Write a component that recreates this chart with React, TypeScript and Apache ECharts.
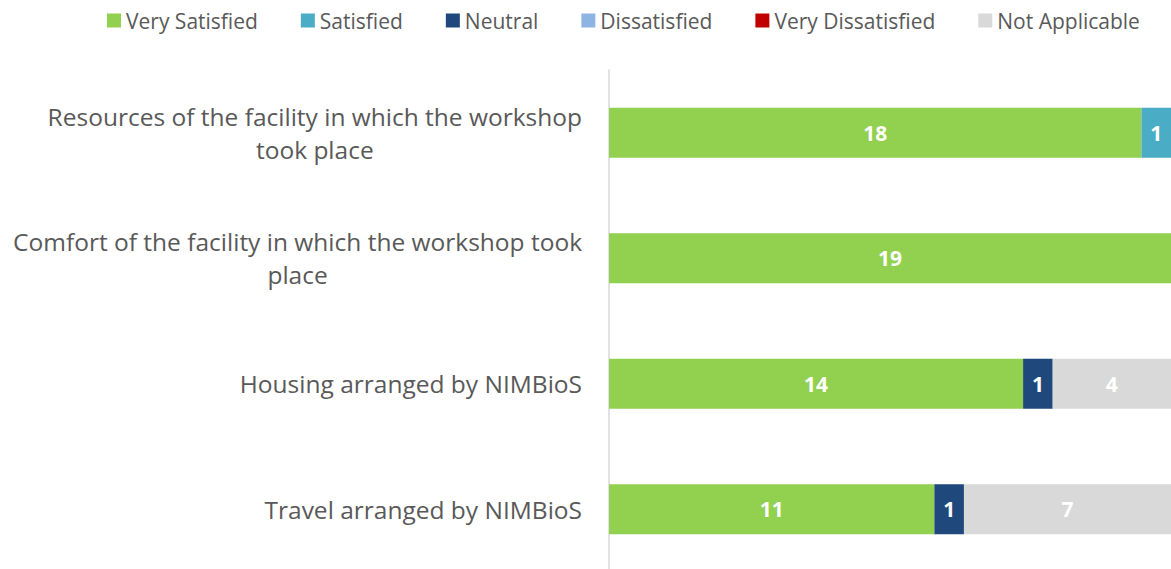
import React, { useEffect, useRef } from "react";
import * as echarts from "echarts";

const categories = [
  "Resources of the facility in which the workshop\ntook place",
  "Comfort of the facility in which the workshop took\nplace",
  "Housing arranged by NIMBioS",
  "Travel arranged by NIMBioS",
];
const seriesNames = [
  "Very Satisfied",
  "Satisfied",
  "Neutral",
  "Dissatisfied",
  "Very Dissatisfied",
  "Not Applicable",
];
const verySatisfied = [18, 19, 14, 11];
const satisfied = [1, 0, 0, 0];
const neutral = [0, 0, 1, 1];
const dissatisfied = [0, 0, 0, 0];
const veryDissatisfied = [0, 0, 0, 0];
const notApplicable = [0, 0, 4, 7];
const seriesValues = [verySatisfied, satisfied, neutral, dissatisfied, veryDissatisfied, notApplicable];
const colors = ["#92D050", "#4BACC6", "#1F497D", "#8DB4E2", "#C00000", "#D9D9D9"];

export default function App() {
  const ref = useRef<HTMLDivElement>(null);
  useEffect(() => {
    const chart = echarts.init(ref.current!, null, { renderer: "svg" });
    const font = "'Open Sans', Lato, sans-serif";
    chart.setOption({
      animation: false,
      textStyle: { fontFamily: font },
      legend: {
        top: 5,
        left: 102,
        itemWidth: 14,
        itemHeight: 14,
        itemGap: 43,
        icon: "rect",
        textStyle: { fontSize: 21, color: "#595959", fontFamily: font },
        data: seriesNames,
      },
      grid: { left: 609, right: 0, top: 70, bottom: 0 },
      xAxis: {
        type: "value",
        min: 0,
        max: 19,
        show: false,
      },
      yAxis: {
        type: "category",
        data: categories,
        inverse: true,
        axisLine: { show: true, lineStyle: { color: "#D9D9D9", width: 1.5 } },
        axisTick: { show: false },
        axisLabel: {
          margin: 27,
          color: "#595959",
          fontSize: 24.5,
          fontFamily: font,
          lineHeight: 33,
          formatter: (v: string) =>
            v.split("\n").map((l) => `{c|${l}}`).join("\n"),
          rich: {
            c: { align: "center", fontSize: 24.5, lineHeight: 33, color: "#595959", fontFamily: font },
          },
        },
      },
      series: seriesNames.map((name, i) => ({
        name,
        type: "bar",
        stack: "total",
        barWidth: 50,
        data: seriesValues[i],
        itemStyle: { color: colors[i] },
        label: {
          show: true,
          position: "inside",
          color: "#FFFFFF",
          fontWeight: "bold",
          fontSize: 21,
          fontFamily: font,
          formatter: (p: any) => (p.value ? String(p.value) : ""),
        },
      })),
    });
    return () => chart.dispose();
  }, []);
  return (
    <div
      ref={ref}
      style={{ position: "fixed", left: 0, top: 0, width: 1171, height: 572, background: "#fff" }}
    />
  );
}
